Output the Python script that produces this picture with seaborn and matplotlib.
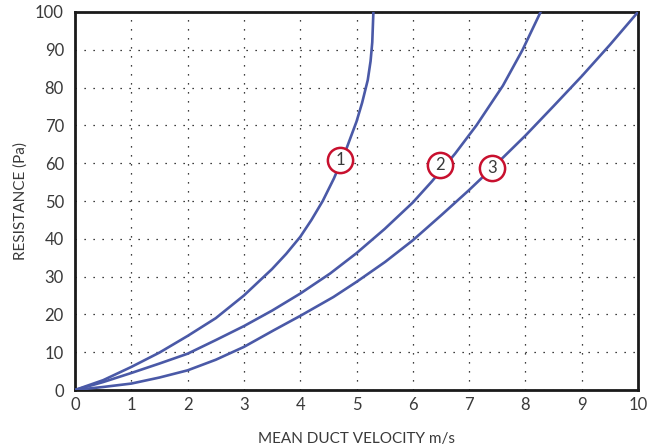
import matplotlib
matplotlib.use("Agg")
import matplotlib.pyplot as plt
import seaborn as sns
import pandas as pd

# values
vel_1 = [0, 0.5, 1, 1.5, 2, 2.5, 3, 3.5, 3.75, 4, 4.2, 4.4, 4.6, 4.8, 5.0, 5.1, 5.2, 5.25, 5.28, 5.30]
res_1 = [0, 2.6, 6.1, 9.9, 14.3, 19.0, 25, 32, 36, 40.5, 45, 50, 56, 63, 71, 76, 82, 87, 92, 100]

vel_2 = [0, 0.5, 1, 1.5, 2, 2.5, 3, 3.5, 4, 4.53, 5, 5.5, 6, 6.34, 6.75, 7.13, 7.6, 7.95, 8.27]
res_2 = [0, 2.1, 4.5, 7.0, 9.6, 13.2, 16.9, 21, 25.5, 30.8, 36.2, 42.6, 49.6, 55.2, 62.5, 70, 80.5, 90, 100]

vel_3 = [0, 0.5, 1, 1.5, 2, 2.5, 3, 3.53, 4, 4.59, 5, 5.51, 6, 6.51, 7, 7.5, 8, 8.5, 9, 9.5, 10]
res_3 = [0, 0.8, 1.7, 3.3, 5.2, 8.0, 11.4, 15.8, 19.6, 24.6, 28.6, 33.9, 39.6, 46.3, 52.9, 60, 67.3, 75.1, 83, 91.3, 100]

# circled curve numbers
label_names = ["1", "2", "3"]
label_x = [4.71, 6.49, 7.41]
label_y = [60.8, 59.5, 58.6]

x_ticks = list(range(0, 11))
y_ticks = list(range(0, 101, 10))

sns.set_style("white")
plt.rcParams['font.family'] = ['Lato', 'DejaVu Sans']

curve_color = "#4a59a7"
text_color = "#3a3a3a"

df = pd.concat([
    pd.DataFrame({'vel': vel_1, 'res': res_1, 'curve': '1'}),
    pd.DataFrame({'vel': vel_2, 'res': res_2, 'curve': '2'}),
    pd.DataFrame({'vel': vel_3, 'res': res_3, 'curve': '3'}),
])

fig = plt.figure(figsize=(6.64, 4.48), dpi=100)
ax = fig.add_axes([75 / 664, 1 - 390 / 448, 563 / 664, 378 / 448])

sns.lineplot(data=df, x='vel', y='res', hue='curve', units='curve', estimator=None, sort=False,
             palette=[curve_color] * 3, linewidth=1.9, legend=False, ax=ax, zorder=3)

ax.scatter(label_x, label_y, s=330, facecolor='white', edgecolor='#c8102e', linewidth=1.8, zorder=4)
for name, lx, ly in zip(label_names, label_x, label_y):
    ax.text(lx, ly, name, ha='center', va='center', fontsize=12, color=text_color, zorder=5)

ax.set_xlim(0, 10)
ax.set_ylim(0, 100)
ax.set_xticks(x_ticks)
ax.set_yticks(y_ticks)
ax.grid(True, color='black', linestyle=(0, (1, 6.2)), linewidth=0.9)
ax.tick_params(length=0, labelsize=12, colors=text_color)
ax.tick_params(axis='y', pad=8)
ax.tick_params(axis='x', pad=5)

for sp in ax.spines.values():
    sp.set_visible(True)
    sp.set_color('#1a1a1a')
    sp.set_linewidth(2)

ax.set_xlabel('MEAN DUCT VELOCITY m/s', fontsize=11, color=text_color, labelpad=14)
ax.set_ylabel('RESISTANCE (Pa)', fontsize=11, color=text_color, labelpad=5)

plt.savefig('out.png', dpi=100)
